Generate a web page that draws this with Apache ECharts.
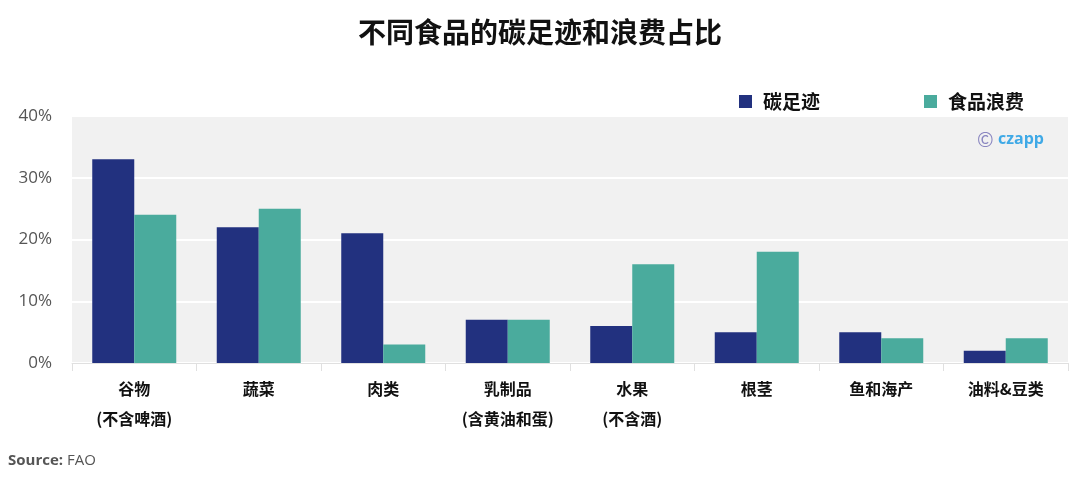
<!DOCTYPE html>
<html>
<head>
<meta charset="utf-8">
<script src="https://cdn.jsdelivr.net/npm/echarts@6/dist/echarts.min.js"></script>
<style>
  html, body { margin: 0; padding: 0; background: #fff; }
  #chart { width: 1080px; height: 484px; }
</style>
</head>
<body>
<div id="chart"></div>
<script>
  const categories = ['谷物\n(不含啤酒)', '蔬菜', '肉类', '乳制品\n(含黄油和蛋)', '水果\n(不含酒)', '根茎', '鱼和海产', '油料&豆类'];
  const carbonFootprint = [33, 22, 21, 7, 6, 5, 5, 2];
  const foodWaste = [24, 25, 3, 7, 16, 18, 4, 4];
  const yTicks = [0, 10, 20, 30, 40];

  const font = '"Noto Sans CJK SC", "Noto Sans", sans-serif';
  const chart = echarts.init(document.getElementById('chart'));

  chart.setOption({
    animation: false,
    textStyle: { fontFamily: font },
    title: {
      text: '不同食品的碳足迹和浪费占比',
      left: 'center',
      top: 13,
      textStyle: { fontSize: 28, fontWeight: 'bold', color: '#111', fontFamily: font }
    },
    legend: {
      top: 87,
      left: 734,
      itemGap: 104,
      itemWidth: 13,
      itemHeight: 13,
      icon: 'rect',
      textStyle: { fontSize: 19, fontWeight: 'bold', color: '#111', fontFamily: font, padding: [0, 0, 0, 6] },
      data: ['碳足迹', '食品浪费']
    },
    grid: {
      left: 72,
      right: 12,
      top: 116,
      bottom: 121,
      show: true,
      backgroundColor: '#f1f1f1',
      borderWidth: 0
    },
    xAxis: {
      type: 'category',
      data: categories,
      axisLine: { show: true, lineStyle: { color: '#e0e0e0', width: 1 } },
      axisTick: { show: true, length: 8, lineStyle: { color: '#e0e0e0' } },
      axisLabel: {
        fontSize: 16,
        fontWeight: 'bold',
        color: '#111',
        lineHeight: 30,
        margin: 11,
        fontFamily: font
      }
    },
    yAxis: {
      type: 'value',
      min: yTicks[0],
      max: yTicks[yTicks.length - 1],
      interval: 10,
      axisLine: { show: false },
      axisTick: { show: false },
      axisLabel: {
        formatter: '{value}%',
        fontSize: 17,
        color: '#555',
        margin: 20,
        fontFamily: '"Open Sans", sans-serif'
      },
      splitLine: { lineStyle: { color: '#ffffff', width: 2 } }
    },
    series: [
      {
        name: '碳足迹',
        type: 'bar',
        data: carbonFootprint,
        barWidth: 42,
        barGap: '0%',
        itemStyle: { color: '#22317f' }
      },
      {
        name: '食品浪费',
        type: 'bar',
        data: foodWaste,
        barWidth: 42,
        itemStyle: { color: '#4aab9d' }
      }
    ],
    graphic: [
      {
        type: 'text',
        left: 977,
        top: 129,
        style: { text: '©', fontSize: 20, fill: '#8a86c0', fontFamily: font }
      },
      {
        type: 'text',
        left: 998,
        top: 131,
        style: { text: 'czapp', fontSize: 16, fontWeight: 'bold', fill: '#3fa9e6', fontFamily: '"Open Sans", sans-serif' }
      },
      {
        type: 'text',
        left: 8,
        top: 453,
        style: {
          text: '{b|Source:} FAO',
          rich: { b: { fontWeight: 'bold', fontSize: 15, fill: '#555', fontFamily: '"Open Sans", sans-serif' } },
          fontSize: 15,
          fill: '#555',
          fontFamily: '"Open Sans", sans-serif'
        }
      }
    ]
  });
</script>
</body>
</html>
